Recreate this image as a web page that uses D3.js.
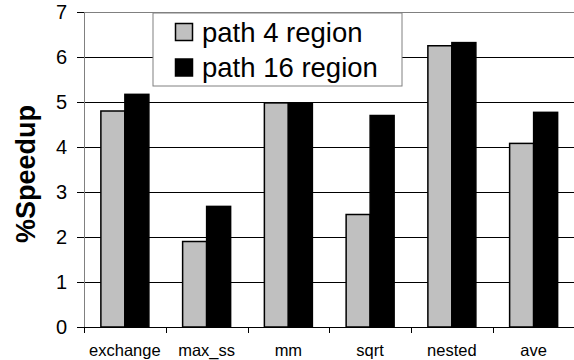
<!DOCTYPE html>
<html><head><meta charset="utf-8">
<script src="https://cdn.jsdelivr.net/npm/d3@7"></script>
<style>body{margin:0;background:#fff}svg{display:block}</style>
</head><body>
<svg id="c" width="574" height="360"></svg>
<script>
const categories = ["exchange","max_ss","mm","sqrt","nested","ave"];
const path4 = [4.8, 1.9, 4.98, 2.5, 6.25, 4.08];
const path16 = [5.17, 2.68, 4.98, 4.7, 6.32, 4.77];
const seriesNames = ["path 4 region","path 16 region"];
const yTicks = [0,1,2,3,4,5,6,7];

const svg = d3.select("#c");
const m = {l:84, r:0, t:12, b:33};
const W = 574, H = 360;
const x = d3.scaleBand().domain(categories).range([m.l, 574.5]).paddingInner(0).paddingOuter(0);
const y = d3.scaleLinear().domain([0,7]).range([H-m.b, m.t]);
const font = "'Liberation Sans', Arial, sans-serif";

// gridlines
svg.append("g").selectAll("line").data(yTicks.filter(d=>d>0)).join("line")
  .attr("x1", m.l).attr("x2", W).attr("y1", d=>y(d)).attr("y2", d=>y(d))
  .attr("stroke", d=>d===7?"#808080":"#000").attr("stroke-width",1).attr("shape-rendering","crispEdges");

// bars
const bw = 24;
const g = svg.append("g");
categories.forEach((c,i)=>{
  const x0 = x(c) + x.bandwidth()/2 - bw;
  g.append("rect").attr("x", x0).attr("y", y(path4[i])).attr("width", bw).attr("height", y(0)-y(path4[i]))
    .attr("fill","#c0c0c0").attr("stroke","#000").attr("stroke-width",1.5);
  g.append("rect").attr("x", x0+bw).attr("y", y(path16[i])).attr("width", bw).attr("height", y(0)-y(path16[i]))
    .attr("fill","#000").attr("stroke","#000").attr("stroke-width",1.5);
});

// y axis
const ya = svg.append("g").attr("transform",`translate(${m.l},0)`)
  .call(d3.axisLeft(y).tickValues(yTicks).tickSize(7).tickPadding(10).tickFormat(d3.format("d")));
ya.select(".domain").attr("stroke","#808080");
ya.selectAll(".tick line").attr("stroke","#000");
ya.selectAll("text").attr("font-family",font).attr("font-size",20).attr("fill","#000");

// x axis
const xa = svg.append("g").attr("transform",`translate(0,${y(0)})`);
xa.append("line").attr("x1",m.l).attr("x2",W).attr("y1",0).attr("y2",0).attr("stroke","#000").attr("shape-rendering","crispEdges");
xa.selectAll("line.t").data(categories).join("line").attr("class","t")
  .attr("x1",d=>Math.round(x(d))+0.5).attr("x2",d=>Math.round(x(d))+0.5).attr("y1",0).attr("y2",6).attr("stroke","#000");
xa.selectAll("text").data(categories).join("text")
  .attr("x",d=>x(d)+x.bandwidth()/2).attr("y",28.5).attr("text-anchor","middle")
  .attr("font-family",font).attr("font-size",16.5).text(d=>d);

// y label
svg.append("text").attr("transform",`translate(35,174) rotate(-90)`)
  .attr("text-anchor","middle").attr("font-family",font).attr("font-weight","bold").attr("font-size",27).text("%Speedup");

// legend
const lg = svg.append("g");
lg.append("rect").attr("x",153).attr("y",13).attr("width",249).attr("height",73).attr("fill","#fff").attr("stroke","#808080").attr("stroke-width",1);
const fills = ["#c0c0c0","#000"];
seriesNames.forEach((s,i)=>{
  const yy = 23.5 + i*35.5;
  lg.append("rect").attr("x",175.5).attr("y",yy).attr("width",17).attr("height",17).attr("fill",fills[i]).attr("stroke","#000").attr("stroke-width",1.5);
  lg.append("text").attr("x",202).attr("y",yy+18.2).attr("font-family",font).attr("font-size",27.5).text(s);
});
</script>
</body></html>
